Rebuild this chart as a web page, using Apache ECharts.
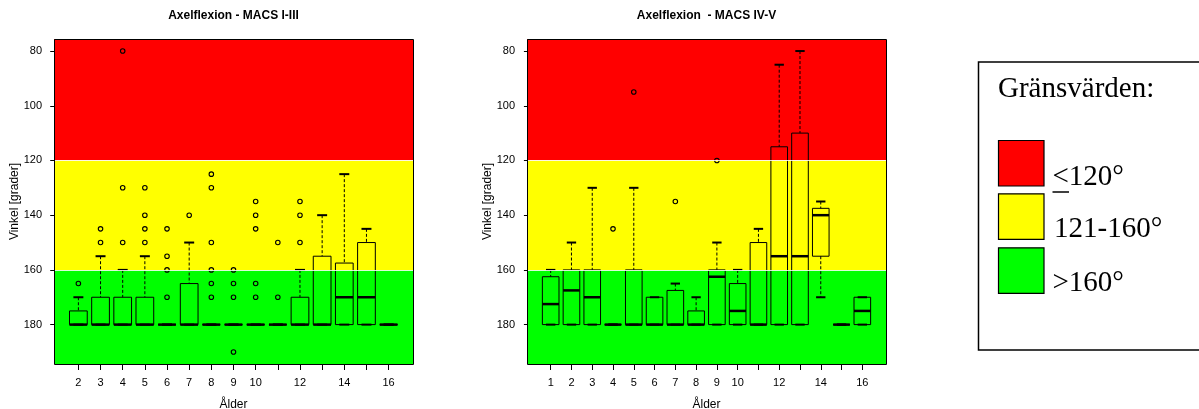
<!DOCTYPE html>
<html>
<head>
<meta charset="utf-8">
<script src="https://cdn.jsdelivr.net/npm/echarts@6/dist/echarts.min.js"></script>
<style>
  html, body { margin: 0; padding: 0; background: #fff; }
  #chart { width: 1199px; height: 409px; }
</style>
</head>
<body>
<div id="chart"></div>
<script>
// ---- Data -------------------------------------------------------------
// Age groups (years) of each panel
const agesI = [2, 3, 4, 5, 6, 7, 8, 9, 10, 11, 12, 13, 14, 15, 16];
const agesIV = [1, 2, 3, 4, 5, 6, 7, 8, 9, 10, 11, 12, 13, 14, 15, 16];

// Box statistics per age, in degrees:
// [whisker min, lower hinge, median, upper hinge, whisker max]
const statsI = [
  [170, 175, 180, 180, 180],
  [155, 170, 180, 180, 180],
  [160, 170, 180, 180, 180],
  [155, 170, 180, 180, 180],
  [180, 180, 180, 180, 180],
  [150, 165, 180, 180, 180],
  [180, 180, 180, 180, 180],
  [180, 180, 180, 180, 180],
  [180, 180, 180, 180, 180],
  [180, 180, 180, 180, 180],
  [160, 170, 180, 180, 180],
  [140, 155, 180, 180, 180],
  [125, 157.5, 170, 180, 180],
  [145, 150, 170, 180, 180],
  [180, 180, 180, 180, 180]
];
const statsIV = [
  [160, 162.5, 172.5, 180, 180],
  [150, 160, 167.5, 180, 180],
  [130, 160, 170, 180, 180],
  [180, 180, 180, 180, 180],
  [130, 160, 180, 180, 180],
  [170, 170, 180, 180, 180],
  [165, 167.5, 180, 180, 180],
  [170, 175, 180, 180, 180],
  [150, 160, 162.5, 180, 180],
  [160, 165, 175, 180, 180],
  [145, 150, 180, 180, 180],
  [85, 115, 155, 180, 180],
  [80, 110, 155, 180, 180],
  [135, 137.5, 140, 155, 170],
  [180, 180, 180, 180, 180],
  [170, 170, 175, 180, 180]
];

// Outliers: [age, degrees]
const outliersI = [
  [2, 165],
  [3, 145], [3, 150],
  [4, 80], [4, 130], [4, 150],
  [5, 130], [5, 140], [5, 145], [5, 150],
  [6, 145], [6, 155], [6, 160], [6, 170],
  [7, 140],
  [8, 125], [8, 130], [8, 150], [8, 160], [8, 165], [8, 170],
  [9, 160], [9, 165], [9, 170], [9, 190],
  [10, 135], [10, 140], [10, 145], [10, 165], [10, 170],
  [11, 150], [11, 170],
  [12, 135], [12, 140], [12, 150]
];
const outliersIV = [
  [4, 145],
  [5, 95],
  [7, 135],
  [9, 120]
];

// Axis labels
const labelAgesI = [2, 3, 4, 5, 6, 7, 8, 9, 10, 12, 14, 16];
const labelAgesIV = [1, 2, 3, 4, 5, 6, 7, 8, 9, 10, 12, 14, 16];
const yTicks = [80, 100, 120, 140, 160, 180];

// Zone limits (degrees) and legend texts
const zoneLimits = [120, 160];
const legendTitle = 'Gränsvärden:';
const legendLabels = ['<120°', '121-160°', '>160°'];

const titles = ['Axelflexion - MACS I-III', 'Axelflexion  - MACS IV-V'];
const xName = 'Ålder';
const yName = 'Vinkel [grader]';

// ---- Layout ------------------------------------------------------------
const Y_MIN = 75.6, Y_MAX = 194.4;
const RED = '#FF0000', YELLOW = '#FFFF00', GREEN = '#00FF00';
const SANS = '"Liberation Sans", Arial, sans-serif';
const SERIF = '"Liberation Serif", "Times New Roman", serif';
const panels = [
  { ages: agesI, stats: statsI, outliers: outliersI, labels: labelAgesI,
    grid: { left: 54, top: 39, width: 359, height: 325 } },
  { ages: agesIV, stats: statsIV, outliers: outliersIV, labels: labelAgesIV,
    grid: { left: 527, top: 39, width: 359, height: 325 } }
];

function renderBox(params, api) {
  const x = api.value(0);
  const lo = api.value(1), q1 = api.value(2), med = api.value(3),
        q3 = api.value(4), hi = api.value(5);
  const halfBox = api.size([0.8, 0])[0] / 2;
  const halfCap = api.size([0.45, 0])[0] / 2;
  const cx = api.coord([x, med])[0];
  const yLo = api.coord([x, lo])[1], yQ1 = api.coord([x, q1])[1];
  const yMed = api.coord([x, med])[1], yQ3 = api.coord([x, q3])[1];
  const yHi = api.coord([x, hi])[1];
  const black = '#000';
  const children = [];
  children.push({
    type: 'rect',
    shape: { x: cx - halfBox, y: yQ1, width: halfBox * 2, height: yQ3 - yQ1 },
    style: { fill: 'none', stroke: black, lineWidth: 1 }
  });
  if (yQ1 - yLo > 0.5) {
    children.push({ type: 'line', shape: { x1: cx, y1: yLo, x2: cx, y2: yQ1 },
      style: { stroke: black, lineWidth: 1, lineDash: [3, 2] } });
  }
  if (yHi - yQ3 > 0.5) {
    children.push({ type: 'line', shape: { x1: cx, y1: yQ3, x2: cx, y2: yHi },
      style: { stroke: black, lineWidth: 1, lineDash: [3, 2] } });
  }
  children.push({ type: 'line', shape: { x1: cx - halfCap, y1: yLo, x2: cx + halfCap, y2: yLo },
    style: { stroke: black, lineWidth: 2 } });
  children.push({ type: 'line', shape: { x1: cx - halfCap, y1: yHi, x2: cx + halfCap, y2: yHi },
    style: { stroke: black, lineWidth: 2 } });
  children.push({ type: 'line', shape: { x1: cx - halfBox, y1: yMed, x2: cx + halfBox, y2: yMed },
    style: { stroke: black, lineWidth: 2.5 } });
  return { type: 'group', children: children };
}

const option = {
  backgroundColor: '#fff',
  animation: false,
  title: [],
  grid: [],
  xAxis: [],
  yAxis: [],
  series: [],
  graphic: []
};

panels.forEach(function (p, i) {
  const n = p.ages.length;
  const pad = 0.04 * n;
  const g = p.grid;
  option.title.push({
    text: titles[i],
    left: g.left + g.width / 2,
    top: 10,
    textAlign: 'center',
    padding: 0,
    textStyle: { fontFamily: SANS, fontSize: 12, fontWeight: 'bold', color: '#000' }
  });
  option.grid.push({
    left: g.left, top: g.top, width: g.width, height: g.height,
    show: false, containLabel: false, outerBoundsMode: 'none'
  });
  option.xAxis.push({
    type: 'value',
    gridIndex: i,
    min: 0.5 - pad,
    max: n + 0.5 + pad,
    name: xName,
    nameLocation: 'middle',
    nameGap: 35,
    nameTextStyle: { fontFamily: SANS, fontSize: 12, color: '#000' },
    axisLine: { show: false },
    splitLine: { show: false },
    axisTick: {
      show: true, length: 6, inside: false,
      lineStyle: { color: '#000', width: 1 },
      customValues: p.ages.map(function (a, k) { return k + 1; })
    },
    axisLabel: {
      show: true, margin: 13,
      fontFamily: SANS, fontSize: 11, color: '#000',
      customValues: p.labels.map(function (a) { return p.ages.indexOf(a) + 1; }),
      formatter: function (v) { return String(p.ages[Math.round(v) - 1]); }
    }
  });
  option.yAxis.push({
    type: 'value',
    gridIndex: i,
    inverse: true,
    min: Y_MIN,
    max: Y_MAX,
    name: yName,
    nameLocation: 'middle',
    nameGap: 33,
    nameMoveOverlap: false,
    nameTextStyle: { fontFamily: SANS, fontSize: 12, color: '#000' },
    axisLine: { show: false },
    splitLine: { show: false },
    axisTick: {
      show: true, length: 6, inside: false,
      lineStyle: { color: '#000', width: 1 },
      customValues: yTicks
    },
    axisLabel: {
      show: true, margin: 12,
      fontFamily: SANS, fontSize: 11, color: '#000',
      customValues: yTicks
    }
  });
  // coloured zones behind the boxes
  option.series.push({
    type: 'line',
    xAxisIndex: i, yAxisIndex: i,
    data: [],
    z: 1,
    silent: true,
    markArea: {
      silent: true,
      itemStyle: { opacity: 1, borderWidth: 0 },
      data: [
        [{ yAxis: Y_MIN, itemStyle: { color: RED } }, { yAxis: zoneLimits[0] }],
        [{ yAxis: zoneLimits[0], itemStyle: { color: YELLOW } }, { yAxis: zoneLimits[1] }],
        [{ yAxis: zoneLimits[1], itemStyle: { color: GREEN } }, { yAxis: Y_MAX }]
      ]
    },
    markLine: {
      silent: true,
      symbol: 'none',
      label: { show: false },
      lineStyle: { color: '#fff', width: 1, type: 'solid', opacity: 0.85 },
      data: zoneLimits.map(function (v) { return { yAxis: v }; })
    }
  });
  option.series.push({
    type: 'custom',
    xAxisIndex: i, yAxisIndex: i,
    z: 3,
    silent: true,
    clip: true,
    renderItem: renderBox,
    data: p.stats.map(function (s, k) { return [k + 1].concat(s); })
  });
  option.series.push({
    type: 'scatter',
    xAxisIndex: i, yAxisIndex: i,
    z: 4,
    silent: true,
    symbol: 'circle',
    symbolSize: 4.5,
    itemStyle: { color: 'rgba(0,0,0,0)', borderColor: '#000', borderWidth: 1.1, opacity: 1 },
    data: p.outliers.map(function (o) { return [p.ages.indexOf(o[0]) + 1, o[1]]; })
  });
  // plot frame
  option.graphic.push({
    type: 'rect',
    z: 100,
    silent: true,
    shape: { x: g.left + 0.5, y: g.top + 0.5, width: g.width, height: g.height },
    style: { fill: 'none', stroke: '#000', lineWidth: 1 }
  });
});

// ---- Legend box ---------------------------------------------------------
const legendColors = [RED, YELLOW, GREEN];
const swatchTops = [140, 193.3, 247.3];
const labelMid = [177, 229.5, 283.5];
const labelX = [1052.5, 1054, 1052.5];
option.graphic.push({
  type: 'polyline', z: 100, silent: true,
  shape: { points: [[1201, 62], [978.5, 62], [978.5, 350], [1201, 350]] },
  style: { fill: 'none', stroke: '#000', lineWidth: 1.5 }
});
option.graphic.push({
  type: 'text', z: 100, silent: true, x: 998, y: 89.2,
  style: { text: legendTitle, font: '29px ' + SERIF, fill: '#000',
           align: 'left', verticalAlign: 'middle', textAlign: 'left', textVerticalAlign: 'middle' }
});
legendColors.forEach(function (c, k) {
  option.graphic.push({
    type: 'rect', z: 100, silent: true,
    shape: { x: 998.5, y: swatchTops[k] + 0.5, width: 45.5, height: 45.5 },
    style: { fill: c, stroke: '#000', lineWidth: 1.2 }
  });
  option.graphic.push({
    type: 'text', z: 100, silent: true, x: labelX[k], y: labelMid[k],
    style: { text: legendLabels[k], font: '29px ' + SERIF, fill: '#000',
             align: 'left', verticalAlign: 'middle', textAlign: 'left', textVerticalAlign: 'middle' }
  });
});
// underline turning "<" into "≤"
option.graphic.push({
  type: 'line', z: 100, silent: true,
  shape: { x1: 1052.5, y1: 192, x2: 1069, y2: 192 },
  style: { stroke: '#000', lineWidth: 1.5 }
});

const chart = echarts.init(document.getElementById('chart'), null, { renderer: 'canvas' });
chart.setOption(option);
</script>
</body>
</html>
